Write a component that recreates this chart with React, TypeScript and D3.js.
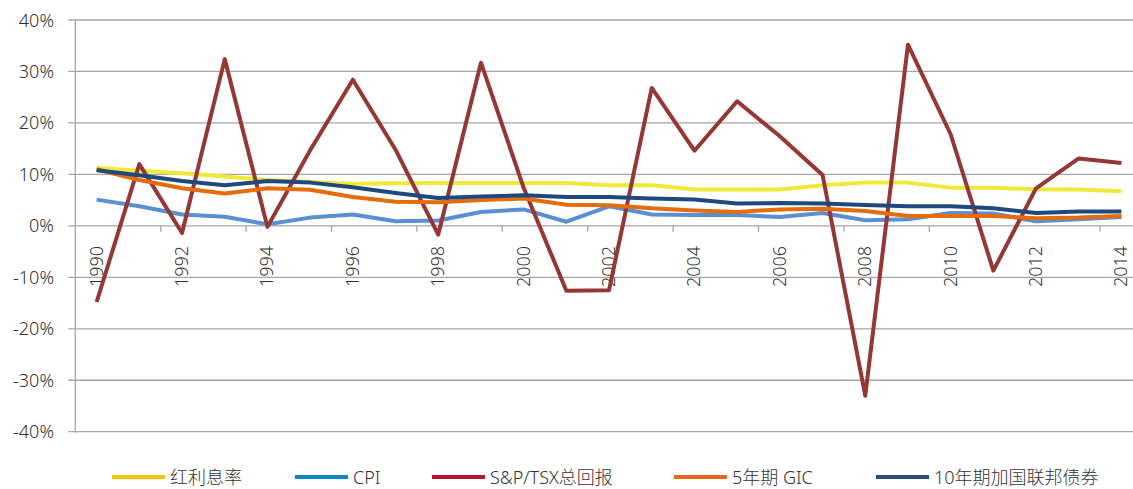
import React, { useEffect, useRef } from 'react';
import * as d3 from 'd3';

const years = d3.range(1990, 2015).map(String);
const yTicks = [40, 30, 20, 10, 0, -10, -20, -30, -40];
const xLabelYears = ['1990', '1992', '1994', '1996', '1998', '2000', '2002', '2004', '2006', '2008', '2010', '2012', '2014'];

// values in percent
const dividendYield = [11.3, 10.7, 10.2, 9.6, 8.9, 8.5, 8.2, 8.3, 8.35, 8.35, 8.35, 8.35, 7.9, 7.9, 7.05, 7.05, 7.05, 7.9, 8.4, 8.4, 7.4, 7.4, 7.1, 7.05, 6.7];
const cpi = [5.1, 3.8, 2.2, 1.75, 0.3, 1.6, 2.2, 0.9, 1.05, 2.7, 3.2, 0.8, 3.8, 2.2, 2.1, 2.1, 1.7, 2.5, 1.1, 1.3, 2.5, 2.4, 0.9, 1.3, 1.7];
const tsxReturn = [-14.8, 12.0, -1.4, 32.4, -0.2, 14.7, 28.4, 14.8, -1.7, 31.7, 7.4, -12.6, -12.5, 26.8, 14.6, 24.2, 17.4, 9.9, -33.0, 35.2, 17.8, -8.7, 7.3, 13.1, 12.2];
const gic5 = [11.0, 8.9, 7.3, 6.3, 7.3, 7.0, 5.6, 4.7, 4.6, 5.0, 5.3, 4.1, 4.0, 3.4, 3.0, 2.7, 3.2, 3.3, 2.9, 1.9, 1.9, 1.9, 1.5, 1.6, 1.9];
const bond10 = [10.8, 9.85, 8.7, 7.9, 8.7, 8.4, 7.5, 6.4, 5.4, 5.7, 5.95, 5.6, 5.6, 5.3, 5.1, 4.35, 4.45, 4.35, 4.05, 3.8, 3.8, 3.4, 2.5, 2.8, 2.8];

const seriesNames = ['红利息率', 'CPI', 'S&P/TSX总回报', '5年期 GIC', '10年期加国联邦债券'];
const seriesValues = [dividendYield, cpi, tsxReturn, gic5, bond10];
const lineColors = ['#F0E93A', '#5A8FD2', '#953734', '#E46C0A', '#1F497D'];
const legendColors = ['#F7C400', '#0B87C5', '#B4142F', '#E9651B', '#2A4A79'];
// where each legend entry starts
const legendX = [112, 295, 432, 674, 876];

const FONT = '"Noto Sans", "Noto Sans CJK SC", sans-serif';

const App = () => {
  const svgRef = useRef(null);

  useEffect(() => {
    const W = 1133;
    const H = 489;
    const svg = d3.select(svgRef.current).attr('width', W).attr('height', H);
    svg.selectAll('*').remove();

    const x = d3.scaleBand().domain(years).range([75.3, 75.3 + 42.7 * years.length]).padding(0);
    const y = d3.scaleLinear().domain([-40, 40]).range([431.7, 20]);
    const cx = (yr) => x(yr) + x.bandwidth() / 2;
    const left = x.range()[0];

    // gridlines + left tick marks
    svg.append('g')
      .selectAll('line')
      .data(yTicks)
      .join('line')
      .attr('x1', left - 7)
      .attr('x2', W)
      .attr('y1', d => y(d))
      .attr('y2', d => y(d))
      .attr('stroke', '#A6A6A6')
      .attr('stroke-width', 1.3);

    // vertical axis line
    svg.append('line')
      .attr('x1', left).attr('x2', left)
      .attr('y1', y(40)).attr('y2', y(-40) + 1)
      .attr('stroke', '#A6A6A6')
      .attr('stroke-width', 1.3);

    // y labels
    svg.append('g')
      .selectAll('text')
      .data(yTicks)
      .join('text')
      .attr('x', 54)
      .attr('y', d => y(d) + 6.5)
      .attr('text-anchor', 'end')
      .style('font-family', FONT)
      .style('font-size', '18px')
      .style('font-weight', 300)
      .style('fill', '#303030')
      .text(d => `${d}%`);

    // x ticks on the zero line, every two categories
    const tickIdx = d3.range(2, years.length, 2);
    svg.append('g')
      .selectAll('line')
      .data(tickIdx)
      .join('line')
      .attr('x1', i => left + i * x.step())
      .attr('x2', i => left + i * x.step())
      .attr('y1', y(0))
      .attr('y2', y(0) + 6)
      .attr('stroke', '#A6A6A6')
      .attr('stroke-width', 1.3);

    // x labels, rotated
    svg.append('g')
      .selectAll('text')
      .data(xLabelYears)
      .join('text')
      .attr('transform', d => `translate(${cx(d) + 6},287) rotate(-90)`)
      .attr('text-anchor', 'start')
      .style('font-family', FONT)
      .style('font-size', '18px')
      .style('font-weight', 300)
      .style('fill', '#303030')
      .text(d => d);

    // lines
    const line = d3.line()
      .x((d, i) => cx(years[i]))
      .y(d => y(d));

    svg.append('g')
      .selectAll('path')
      .data(seriesValues)
      .join('path')
      .attr('d', d => line(d))
      .attr('fill', 'none')
      .attr('stroke', (d, i) => lineColors[i])
      .attr('stroke-width', 4)
      .attr('stroke-linejoin', 'round');

    // legend
    const legend = svg.append('g');
    const ly = 477;
    seriesNames.forEach((name, i) => {
      const lx = legendX[i];
      legend.append('line')
        .attr('x1', lx).attr('x2', lx + 53)
        .attr('y1', ly).attr('y2', ly)
        .attr('stroke', legendColors[i])
        .attr('stroke-width', 4);
      legend.append('text')
        .attr('x', lx + 58)
        .attr('y', ly + 7)
        .style('font-family', FONT)
        .style('font-size', '18px')
        .style('font-weight', 300)
        .style('fill', '#333333')
        .text(name);
    });
  }, []);

  return <svg ref={svgRef} style={{ position: 'absolute', top: 0, left: 0, background: '#fff' }}></svg>;
};

export default App;
